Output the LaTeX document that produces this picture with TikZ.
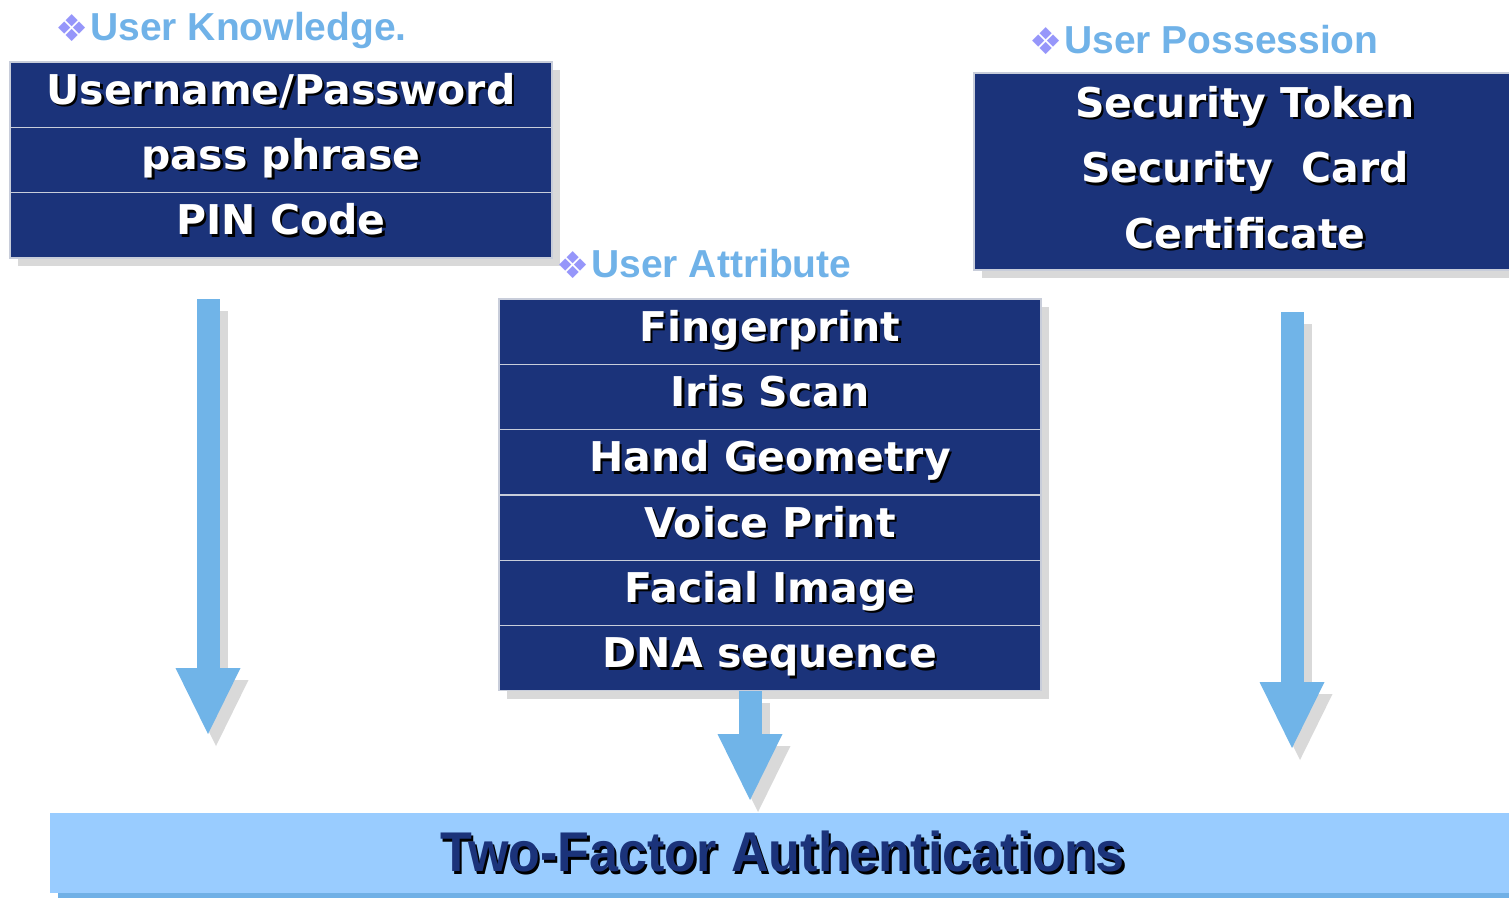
\documentclass[tikz,border=0pt]{standalone}
\usepackage{fontspec}
\usepackage{graphicx}
\setmainfont{DejaVu Sans}
\newfontfamily\headfont{Liberation Sans}
\newfontfamily\bulletfont{DejaVu Sans}
\usetikzlibrary{shadows,arrows.meta}
\definecolor{boxblue}{RGB}{27,51,122}
\definecolor{sepgray}{RGB}{200,205,218}
\definecolor{headblue}{RGB}{112,178,232}
\definecolor{bulletpurple}{RGB}{150,150,250}
\definecolor{arrowblue}{RGB}{112,180,232}
\definecolor{barblue}{RGB}{153,204,255}
\definecolor{barshade}{RGB}{112,176,230}
\definecolor{shadegray}{RGB}{217,217,217}
\newcommand{\shtxt}[2][black]{\rlap{\kern2.5pt\raisebox{-2.5pt}{\color{#1}#2}}#2}
\newcommand{\bul}{{\color{bulletpurple}\bulletfont\fontsize{37}{37}\selectfont\raisebox{-1pt}{❖}}\hspace{2pt}}

\begin{document}
\begin{tikzpicture}[x=1pt,y=-1pt,
  row/.style={shape=rectangle,fill=boxblue,draw=sepgray,line width=1.2pt,minimum width=542pt,minimum height=\rh pt,inner sep=0pt,text height=29pt,text depth=10pt,text=white,font=\bfseries\fontsize{41}{48}\selectfont,drop shadow={shadow xshift=8pt,shadow yshift=-8pt,fill=shadegray,opacity=1}},
  bigbox/.style={row,minimum height=197pt,text height=,text depth=},
  boxtxt/.style={anchor=base,inner sep=0pt,text=white,font=\bfseries\fontsize{41}{48}\selectfont},
  head/.style={anchor=base west,inner sep=0pt,text=headblue,font=\headfont\bfseries\fontsize{39}{44}\selectfont},
  shaft/.style={draw=arrowblue,line width=23pt,-{Triangle[length=66pt 0 0,width=65pt 0 0,line width=0pt]}},
  shaftsh/.style={shaft,draw=shadegray,transform canvas={shift={(8pt,-12pt)}}},
  bar/.style={shape=rectangle,fill=barblue,inner sep=0pt,minimum width=1465pt,minimum height=80pt,drop shadow={shadow xshift=8pt,shadow yshift=-5pt,fill=barshade,opacity=1}}]
\def\rh{65.3}
\def\kx{281}
\def\ky{62}
\def\ax{770}
\def\ay{299}

\useasboundingbox (0,0) rectangle (1509,898);

% user knowledge
\node[head] (knh) at (55,40) {\bul User Knowledge.};
\node[row] (kn1) at (\kx,\ky+0.5*\rh) {\shtxt{Username/Password}};
\node[row] (kn2) at (\kx,\ky+1.5*\rh) {\shtxt{pass phrase}};
\node[row] (kn3) at (\kx,\ky+2.5*\rh) {\shtxt{PIN Code}};

% user possession
\node[head] (posh) at (1029,53) {\bul User Possession};
\node[bigbox] (pos) at (1245,171.5) {};
\node[boxtxt] (pos1) at (1245,117) {\shtxt{Security Token}};
\node[boxtxt] (pos2) at (1245,182.5) {\shtxt{Security\ \ Card}};
\node[boxtxt] (pos3) at (1245,248) {\shtxt{Certificate}};

% user attribute
\node[head] (ath) at (556,277) {\bul User Attribute};
\node[row] (at1) at (\ax,\ay+0.5*\rh) {\shtxt{Fingerprint}};
\node[row] (at2) at (\ax,\ay+1.5*\rh) {\shtxt{Iris Scan}};
\node[row] (at3) at (\ax,\ay+2.5*\rh) {\shtxt{Hand Geometry}};
\node[row] (at4) at (\ax,\ay+3.5*\rh) {\shtxt{Voice Print}};
\node[row] (at5) at (\ax,\ay+4.5*\rh) {\shtxt{Facial Image}};
\node[row] (at6) at (\ax,\ay+5.5*\rh) {\shtxt{DNA sequence}};

% result
\node[bar] (tfa) at (782.5,853) {\headfont\bfseries\fontsize{56}{60}\selectfont\color{boxblue}\scalebox{0.93}[1]{\shtxt[black]{Two-Factor Authentications}}};

\coordinate (ks) at (208,299);
\coordinate (ke) at (208,734);
\coordinate (ae) at (750,800);
\coordinate (as) at (at6.south -| ae);
\coordinate (ps) at (1292,312);
\coordinate (pe) at (1292,748);

\draw[shaftsh] (ks) -- (ke);
\draw[shaftsh] (as) -- (ae);
\draw[shaftsh] (ps) -- (pe);
\draw[shaft] (ks) -- (ke);
\draw[shaft] (as) -- (ae);
\draw[shaft] (ps) -- (pe);
\end{tikzpicture}
\end{document}
